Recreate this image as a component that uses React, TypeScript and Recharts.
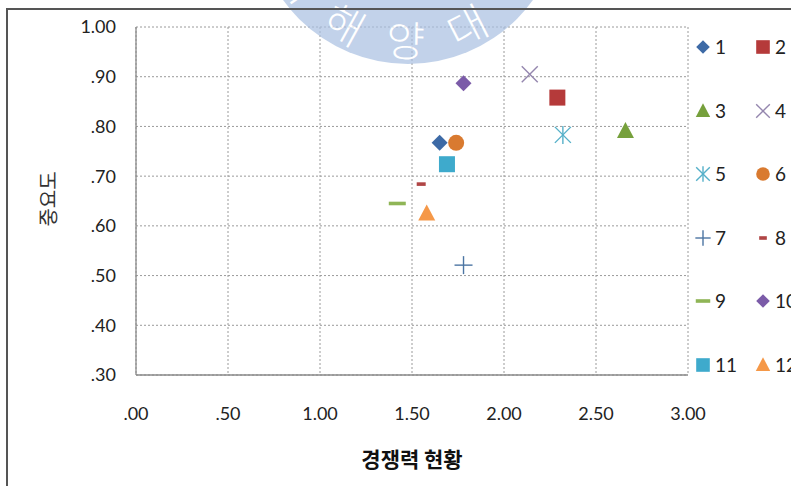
import React from "react";
import {
  ScatterChart,
  Scatter,
  XAxis,
  YAxis,
  CartesianGrid,
  Legend,
  Label,
} from "recharts";

// series 1..12: (competitiveness, importance)
const seriesNames = ["1", "2", "3", "4", "5", "6", "7", "8", "9", "10", "11", "12"];
const competitiveness = [1.65, 2.29, 2.66, 2.14, 2.32, 1.74, 1.78, 1.55, 1.42, 1.78, 1.69, 1.58];
const importance = [0.767, 0.858, 0.791, 0.905, 0.783, 0.767, 0.521, 0.684, 0.645, 0.887, 0.724, 0.625];

const xTicks = [0, 0.5, 1, 1.5, 2, 2.5, 3];
const yTicks = [0.3, 0.4, 0.5, 0.6, 0.7, 0.8, 0.9, 1.0];

const markerKinds = [
  "diamond", "square", "triangle", "x", "star", "circle",
  "plus", "shortDash", "longDash", "diamond", "square", "triangle",
];
const markerColors = [
  "#3D6AA6", "#B53A3A", "#76A03C", "#9486AE", "#55B0C9", "#D97A30",
  "#4C75A3", "#B04545", "#8FB556", "#7B5BA8", "#3EAACC", "#F59848",
];

const W = 791;
const H = 486;
const TICK_FONT = "Lato, 'Open Sans', sans-serif";
const KR_FONT = "'Noto Sans CJK KR', 'Noto Sans', sans-serif";

const fmt = (v: number) => v.toFixed(2).replace(/^0/, "");

function Marker({ kind, color, cx, cy, s = 1 }: any) {
  const k = (n: number) => n * s;
  switch (kind) {
    case "diamond":
      return (
        <polygon
          points={`${cx},${cy - k(8)} ${cx + k(8)},${cy} ${cx},${cy + k(8)} ${cx - k(8)},${cy}`}
          fill={color}
        />
      );
    case "square":
      return <rect x={cx - k(8)} y={cy - k(8)} width={k(16)} height={k(16)} fill={color} />;
    case "triangle":
      return (
        <polygon
          points={`${cx},${cy - k(9)} ${cx + k(8.5)},${cy + k(7)} ${cx - k(8.5)},${cy + k(7)}`}
          fill={color}
        />
      );
    case "circle":
      return <circle cx={cx} cy={cy} r={k(8)} fill={color} />;
    case "x":
      return (
        <g stroke={color} strokeWidth={1.4}>
          <line x1={cx - k(8)} y1={cy - k(8)} x2={cx + k(8)} y2={cy + k(8)} />
          <line x1={cx - k(8)} y1={cy + k(8)} x2={cx + k(8)} y2={cy - k(8)} />
        </g>
      );
    case "star":
      return (
        <g stroke={color} strokeWidth={1.4}>
          <line x1={cx - k(8)} y1={cy - k(8)} x2={cx + k(8)} y2={cy + k(8)} />
          <line x1={cx - k(8)} y1={cy + k(8)} x2={cx + k(8)} y2={cy - k(8)} />
          <line x1={cx} y1={cy - k(9)} x2={cx} y2={cy + k(9)} />
        </g>
      );
    case "plus":
      return (
        <g stroke={color} strokeWidth={1.4}>
          <line x1={cx - k(9)} y1={cy} x2={cx + k(9)} y2={cy} />
          <line x1={cx} y1={cy - k(9)} x2={cx} y2={cy + k(9)} />
        </g>
      );
    case "shortDash":
      return <rect x={cx - k(4.5)} y={cy - 1.8} width={k(9)} height={3.6} fill={color} />;
    case "longDash":
      return <rect x={cx - k(8.5)} y={cy - 1.8} width={k(17)} height={3.6} fill={color} />;
    default:
      return null;
  }
}

// two-column legend at the right edge
function LegendGrid() {
  return (
    <div style={{ position: "relative", width: 120, height: 360 }}>
      {seriesNames.map((name, i) => {
        const col = i % 2;
        const row = Math.floor(i / 2);
        const left = col === 0 ? 0 : 60;
        const top = row * 63.5;
        return (
          <div
            key={name}
            style={{
              position: "absolute",
              left,
              top,
              height: 24,
              display: "flex",
              alignItems: "center",
              whiteSpace: "nowrap",
            }}
          >
            <svg width={20} height={24} style={{ display: "block" }}>
              <Marker kind={markerKinds[i]} color={markerColors[i]} cx={10} cy={12} s={0.85} />
            </svg>
            <span
              style={{
                fontFamily: TICK_FONT,
                fontSize: 19,
                color: "#222",
                marginLeft: 2,
                lineHeight: "24px",
              }}
            >
              {name}
            </span>
          </div>
        );
      })}
    </div>
  );
}

export default function App() {
  return (
    <div
      style={{
        position: "absolute",
        left: 0,
        top: 0,
        width: W,
        height: H,
        background: "#fff",
        overflow: "hidden",
      }}
    >
      <ScatterChart
        width={W}
        height={H}
        margin={{ top: 27, right: 103, bottom: 71, left: 0 }}
      >
        <CartesianGrid stroke="#9a9a9a" strokeDasharray="2 2" />
        <XAxis
          type="number"
          dataKey="x"
          domain={[0, 3]}
          ticks={xTicks}
          tickFormatter={fmt}
          height={40}
          tickLine={false}
          tickSize={0}
          tickMargin={32}
          axisLine={{ stroke: "#8a8a8a", strokeWidth: 1.3 }}
          tick={{ fill: "#222", fontSize: 18, fontFamily: TICK_FONT }}
          interval={0}
        >
          <Label
            content={({ viewBox }: any) => (
              <text
                x={viewBox.x + viewBox.width / 2}
                y={viewBox.y + 83}
                textAnchor="middle"
                dominantBaseline="central"
                fontFamily={KR_FONT}
                fontWeight={700}
                fontSize={21}
                fill="#111"
              >
                경쟁력 현황
              </text>
            )}
          />
        </XAxis>
        <YAxis
          type="number"
          dataKey="y"
          domain={[0.3, 1]}
          ticks={yTicks}
          tickFormatter={fmt}
          width={136}
          tickLine={false}
          tickSize={0}
          tickMargin={20}
          axisLine={{ stroke: "#8a8a8a", strokeWidth: 1.3 }}
          tick={{ fill: "#222", fontSize: 18, fontFamily: TICK_FONT }}
          interval={0}
        >
          <Label
            content={({ viewBox }: any) => {
              const cy = viewBox.y + viewBox.height / 2 - 2;
              return (
                <text
                  x={47}
                  y={cy}
                  textAnchor="middle"
                  dominantBaseline="central"
                  transform={`rotate(-90 47 ${cy})`}
                  fontFamily={KR_FONT}
                  fontSize={20}
                  fill="#333"
                >
                  중요도
                </text>
              );
            }}
          />
        </YAxis>
        <Legend
          layout="horizontal"
          verticalAlign="middle"
          align="center"
          content={() => <LegendGrid />}
          wrapperStyle={{ left: 693, top: 35, width: 120, height: 360 }}
        />
        {seriesNames.map((name, i) => (
          <Scatter
            key={name}
            name={name}
            data={[{ x: competitiveness[i], y: importance[i] }]}
            fill={markerColors[i]}
            isAnimationActive={false}
            shape={(p: any) => (
              <Marker kind={markerKinds[i]} color={markerColors[i]} cx={p.cx} cy={p.cy} />
            )}
          />
        ))}
      </ScatterChart>

      {/* frame and faint seal on top */}
      <svg
        width={W}
        height={H}
        style={{ position: "absolute", left: 0, top: 0, pointerEvents: "none" }}
      >
        <g opacity={0.7}>
          <circle cx={408} cy={-90} r={154} fill="#a9c0e2" />
          {[
            { t: "국", a: -56 },
            { t: "해", a: -29 },
            { t: "양", a: -1 },
            { t: "대", a: 27 },
            { t: "학", a: 55 },
          ].map(({ t, a }) => {
            const rad = (a * Math.PI) / 180;
            const px = 408 + 128 * Math.sin(rad);
            const py = -90 + 128 * Math.cos(rad);
            return (
              <text
                key={t}
                x={px}
                y={py}
                textAnchor="middle"
                dominantBaseline="central"
                transform={`rotate(${-a} ${px} ${py})`}
                fontFamily={KR_FONT}
                fontWeight={300}
                fontSize={42}
                fill="#fff"
              >
                {t}
              </text>
            );
          })}
        </g>
        <polyline
          points={`7,${H} 7,9 ${W},9`}
          fill="none"
          stroke="#555"
          strokeWidth={2}
        />
      </svg>
    </div>
  );
}
